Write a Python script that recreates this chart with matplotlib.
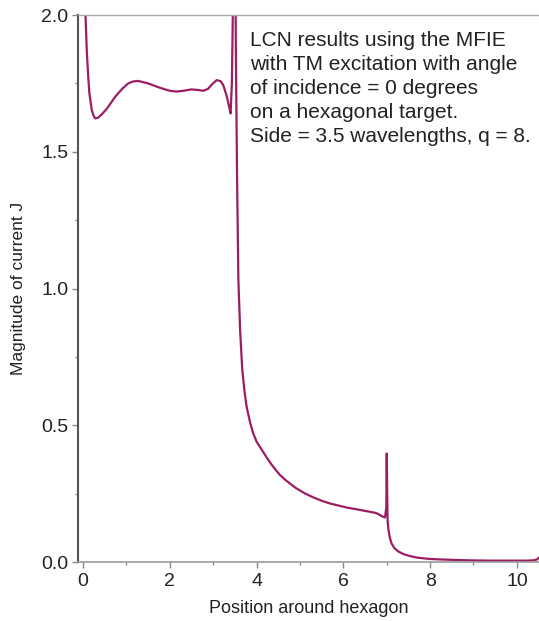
import numpy as np
import matplotlib.pyplot as plt
from matplotlib.ticker import MultipleLocator

# position around the half-hexagon (wavelengths) and |J|
position = [0.0, 0.03, 0.055, 0.085, 0.12, 0.145, 0.2, 0.24, 0.28, 0.35, 0.45,
            0.55, 0.74, 0.9, 1.04, 1.15, 1.27, 1.5, 1.70, 1.85, 2.0, 2.15,
            2.31, 2.50, 2.65, 2.77, 2.88, 2.98, 3.08, 3.17, 3.23, 3.30, 3.36,
            3.40, 3.43, 3.46, 3.49, 3.5, 3.52, 3.55, 3.58, 3.62, 3.67, 3.72,
            3.77, 3.85, 3.92, 4.0, 4.12, 4.25, 4.35, 4.45, 4.54, 4.65, 4.8,
            4.92, 5.1, 5.31, 5.5, 5.69, 5.9, 6.08, 6.3, 6.46, 6.6, 6.73, 6.8,
            6.86, 6.92, 6.96, 6.99, 7.0, 7.01, 7.02, 7.04, 7.07, 7.11, 7.18,
            7.27, 7.4, 7.53, 7.7, 8.0, 8.3, 8.92, 9.4, 9.84, 10.2, 10.38, 10.46,
            10.5]
magnitude = [2.8, 2.3, 2.0, 1.87, 1.77, 1.714, 1.653, 1.632, 1.622, 1.625, 1.64,
             1.658, 1.701, 1.730, 1.750, 1.757, 1.759, 1.750, 1.738, 1.730, 1.723, 1.720,
             1.723, 1.728, 1.726, 1.723, 1.730, 1.748, 1.762, 1.758, 1.744, 1.71, 1.67,
             1.640, 1.75, 2.1, 2.6, 2.8, 1.9, 1.4, 1.03, 0.848, 0.702, 0.625,
             0.568, 0.51, 0.471, 0.44, 0.41, 0.378, 0.355, 0.335, 0.318, 0.302, 0.283,
             0.269, 0.252, 0.236, 0.224, 0.214, 0.206, 0.199, 0.193, 0.188, 0.184, 0.180, 0.176,
             0.170, 0.165, 0.163, 0.2, 0.397, 0.25, 0.15, 0.117, 0.09, 0.068, 0.05,
             0.038, 0.028, 0.022, 0.016, 0.011, 0.009, 0.006, 0.005, 0.005, 0.005, 0.006,
             0.009, 0.015]

plt.rcParams['font.family'] = ['Liberation Sans', 'DejaVu Sans']

fig = plt.figure(figsize=(5.39, 6.21), dpi=100)
ax = fig.add_axes([0.1453, 0.095, 0.8547, 0.8808])

ax.plot(position, magnitude, color='#9c1d62', lw=1.6, solid_joinstyle='round')

ax.set_xlim(-0.11, 10.51)
ax.set_ylim(0, 2.0)
ax.xaxis.set_minor_locator(MultipleLocator(1))
ax.yaxis.set_minor_locator(MultipleLocator(0.25))
ax.set_xticks([0, 2, 4, 6, 8, 10])
ax.set_yticks([0, 0.5, 1.0, 1.5, 2.0])
ax.set_yticklabels(['0.0', '0.5', '1.0', '1.5', '2.0'])

ax.spines['right'].set_visible(False)
ax.spines['left'].set_color('#555555')
ax.spines['left'].set_linewidth(1.5)
ax.spines['bottom'].set_color('#999999')
ax.spines['bottom'].set_linewidth(1.2)
ax.spines['top'].set_color('#aaaaaa')
ax.spines['top'].set_linewidth(1.0)

ax.tick_params(which='both', direction='out', color='#888888', labelsize=14,
               labelcolor='#222222')
ax.tick_params(which='major', length=4, width=1)
ax.tick_params(which='minor', length=2.5, width=1)
ax.tick_params(axis='x', pad=4)
ax.tick_params(axis='y', pad=3)

ax.set_xlabel('Position around hexagon', fontsize=13, color='#222222', labelpad=7)
ax.set_ylabel('Magnitude of current J', fontsize=12.5, color='#222222', labelpad=11)

ax.text(0.372, 0.97,
        'LCN results using the MFIE\nwith TM excitation with angle\n'
        'of incidence = 0 degrees\non a hexagonal target.\n'
        'Side = 3.5 wavelengths, q = 8.',
        transform=ax.transAxes, ha='left', va='top', fontsize=15,
        color='#222222', linespacing=1.32)

fig.savefig('out.png', dpi=100)
